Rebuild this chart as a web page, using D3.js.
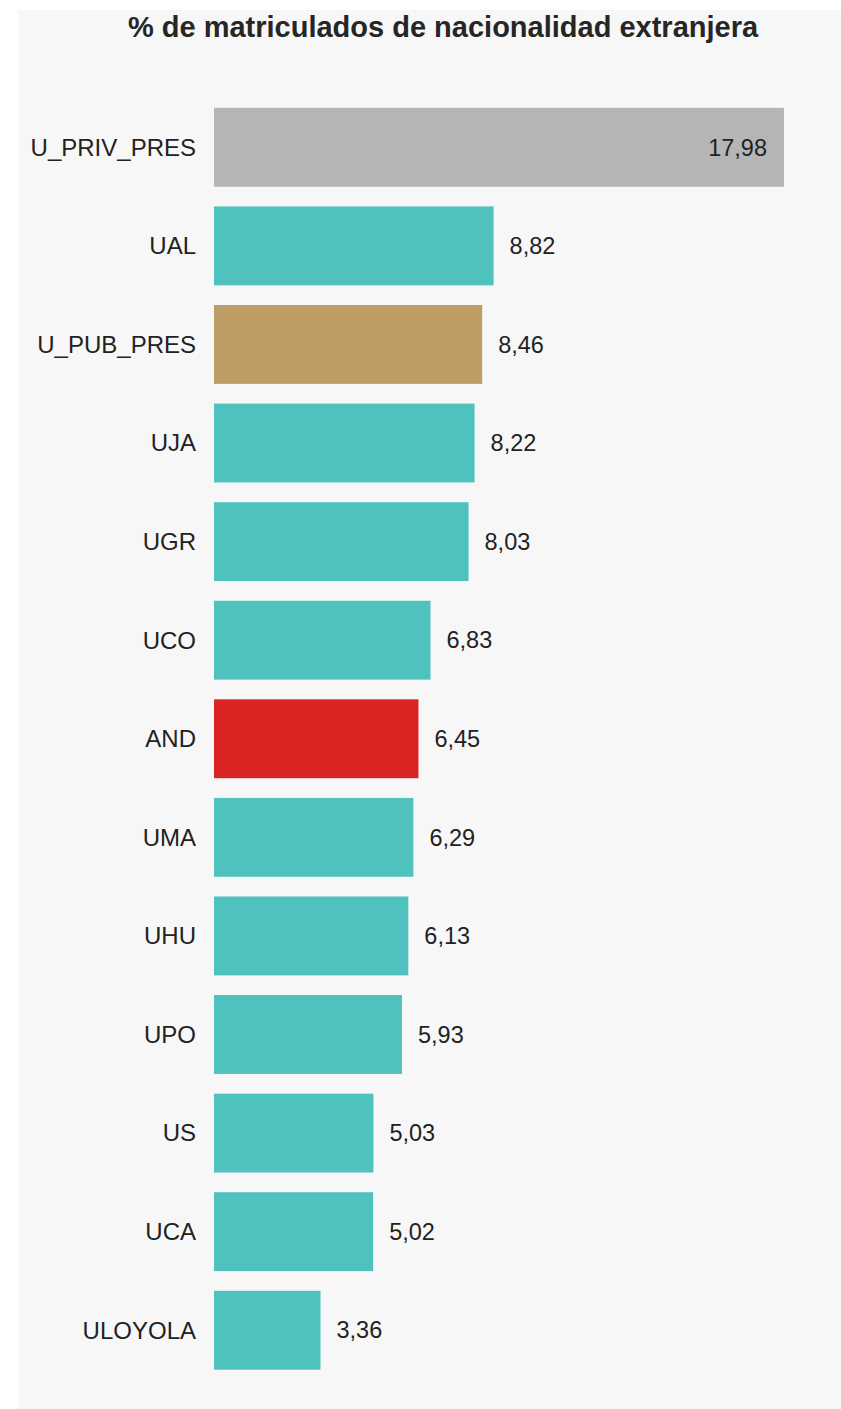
<!DOCTYPE html>
<html>
<head>
<meta charset="utf-8">
<script src="https://cdn.jsdelivr.net/npm/d3@7"></script>
<style>
  html, body { margin: 0; padding: 0; background: #fff; }
  svg { display: block; font-family: "Liberation Sans", Arial, sans-serif; }
</style>
</head>
<body>
<svg id="chart" width="841" height="1409"></svg>
<script>
const title = '% de matriculados de nacionalidad extranjera';
const categories = ['U_PRIV_PRES', 'UAL', 'U_PUB_PRES', 'UJA', 'UGR', 'UCO', 'AND', 'UMA', 'UHU', 'UPO', 'US', 'UCA', 'ULOYOLA'];
const values = [17.98, 8.82, 8.46, 8.22, 8.03, 6.83, 6.45, 6.29, 6.13, 5.93, 5.03, 5.02, 3.36];
const groups = ['priv', 'univ', 'pub', 'univ', 'univ', 'univ', 'and', 'univ', 'univ', 'univ', 'univ', 'univ', 'univ'];

const colorByGroup = { priv: '#b5b5b5', pub: '#bd9c66', and: '#da2323', univ: '#4fc1be' };

const svg = d3.select('#chart');
const width = +svg.attr('width');
const height = +svg.attr('height');
const margin = { top: 98, left: 214 };

// panel
svg.append('rect')
  .attr('x', 18).attr('y', 10)
  .attr('width', width - 18).attr('height', height - 10)
  .attr('fill', '#f7f7f7');

svg.append('text')
  .attr('x', 443).attr('y', 37)
  .attr('text-anchor', 'middle')
  .attr('font-size', 29)
  .attr('font-weight', 'bold')
  .attr('fill', '#262626')
  .text(title);

const data = categories.map((c, i) => ({ name: c, value: values[i], group: groups[i] }));

const y = d3.scaleBand()
  .domain(categories)
  .range([margin.top, margin.top + categories.length * 98.58])
  .paddingInner(0.2)
  .paddingOuter(0.1);

const x = d3.scaleLinear()
  .domain([0, 18])
  .range([margin.left, margin.left + 18 * 31.7]);

const fmt = v => d3.format('.2f')(v).replace('.', ',');

const row = svg.append('g').selectAll('g')
  .data(data)
  .join('g');

row.append('rect')
  .attr('x', x(0))
  .attr('y', d => y(d.name))
  .attr('width', d => x(d.value) - x(0))
  .attr('height', y.bandwidth())
  .attr('fill', d => colorByGroup[d.group]);

row.append('text')
  .attr('x', 196)
  .attr('y', d => y(d.name) + y.bandwidth() / 2)
  .attr('dy', '0.35em')
  .attr('text-anchor', 'end')
  .attr('font-size', 24)
  .attr('fill', '#222')
  .text(d => d.name);

row.append('text')
  .attr('x', d => x(d.value) + 76 > width ? x(d.value) - 17 : x(d.value) + 16)
  .attr('y', d => y(d.name) + y.bandwidth() / 2)
  .attr('dy', '0.35em')
  .attr('text-anchor', d => x(d.value) + 76 > width ? 'end' : 'start')
  .attr('font-size', 23.5)
  .attr('fill', '#222')
  .text(d => fmt(d.value));
</script>
</body>
</html>
